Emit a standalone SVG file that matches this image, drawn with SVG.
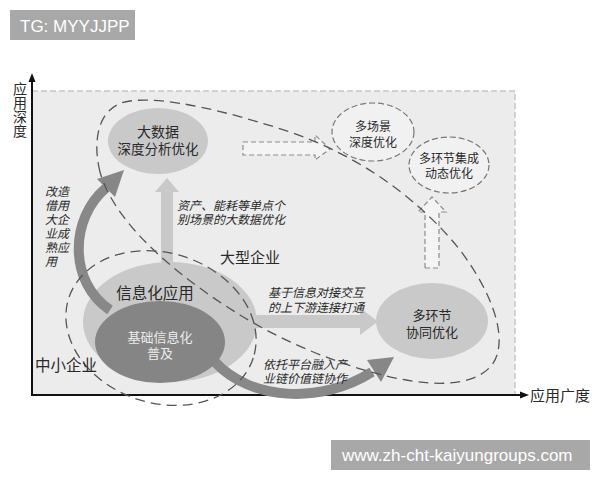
<svg xmlns="http://www.w3.org/2000/svg" width="600" height="480" viewBox="0 0 600 480">
<defs>
<style>
.cn{font-family:"Liberation Sans","Noto Sans CJK SC",sans-serif;fill:#2a2a2a}
.it{font-style:italic;font-size:12px}
.c{text-anchor:middle}
.dl{fill:none;stroke:#555;stroke-width:1.3;stroke-dasharray:10,6}
.hollow{fill:#f4f4f4;stroke:#8a8a8a;stroke-width:1.2;stroke-dasharray:5,3}
.light{fill:#c9c9c9}
.dark{fill:#878787}
.wm{fill:#a8a8a8}
.wt{font-family:"Liberation Sans",Arial,sans-serif;fill:#fff}
</style>
</defs>
<rect width="600" height="480" fill="#fff"/>
<g id="watermark-top"><rect class="wm" x="10" y="10" width="125" height="30"/><text class="wt" x="20" y="32" font-size="17">TG: MYYJJPP</text></g>
<g id="panel">
<rect x="32" y="91" width="483" height="304" fill="#ececec"/>
<path d="M32,91 H515 V395" fill="none" stroke="#c6c6c6" stroke-width="1.5" stroke-dasharray="6,3"/>
</g>
<g id="axes">
<path d="M32,396 V80" stroke="#111" stroke-width="2" fill="none"/>
<polygon points="32,73 28.5,82 35.5,82" fill="#111"/>
<path d="M31,395 H522" stroke="#111" stroke-width="2" fill="none"/>
<polygon points="529,395 520,391.5 520,398.5" fill="#111"/>
<text class="cn" x="19" y="82" font-size="14" style="writing-mode:vertical-rl">应用深度</text>
<text class="cn" x="530" y="401" font-size="15">应用广度</text>
</g>
<g id="connectors">
<rect class="light" x="161" y="190" width="12" height="74"/>
<polygon class="light" points="167,178 155,192 179,192"/>
<rect class="light" x="250" y="315" width="112" height="13"/>
<polygon class="light" points="378,321.5 360,308 360,335"/>
<polygon class="hollow" points="243,142 315,142 315,135 330,149 315,160 315,155 243,155"/>
<polygon class="hollow" points="425,268 425,212 418,212 432,197 446,212 439,212 439,268"/>
</g>
<g id="node-xxh">
<ellipse class="light" cx="170" cy="322" rx="87" ry="60"/>
<text class="cn c" x="155" y="299" font-size="15.5">信息化应用</text>
</g>
<g id="connectors-dark">
<path d="M110,310 C68,282 70,218 106,188" fill="none" stroke="#888" stroke-width="10"/>
<polygon class="dark" points="124,170 97,179 115,197"/>
<path d="M215,362 C250,400 320,405 372,372" fill="none" stroke="#888" stroke-width="10"/>
<polygon class="dark" points="394,357 367,360 381,382"/>
</g>
<g id="node-jc">
<ellipse cx="160" cy="342" rx="65" ry="41" fill="#858585"/>
<text class="c" font-size="13" font-family="Liberation Sans,Noto Sans CJK SC,sans-serif" fill="#ececec"><tspan x="160" y="342">基础信息化</tspan><tspan x="160" y="358">普及</tspan></text>
</g>
<g id="node-dsj">
<ellipse class="light" cx="158" cy="141" rx="50" ry="33"/>
<text class="cn c" font-size="14"><tspan x="158" y="137">大数据</tspan><tspan x="158" y="154" font-size="13.5">深度分析优化</tspan></text>
</g>
<g id="node-dcj">
<ellipse cx="373" cy="132" rx="41" ry="29" fill="#f1f1f1" stroke="#777" stroke-width="1.2" stroke-dasharray="6,3"/>
<text class="cn c" font-size="12"><tspan x="373" y="131">多场景</tspan><tspan x="373" y="147">深度优化</tspan></text>
</g>
<g id="node-dhj-jc">
<ellipse cx="449" cy="165" rx="40" ry="28" fill="#f1f1f1" stroke="#777" stroke-width="1.2" stroke-dasharray="6,3"/>
<text class="cn c" font-size="12"><tspan x="449" y="163">多环节集成</tspan><tspan x="449" y="178">动态优化</tspan></text>
</g>
<g id="node-dhj-xt">
<ellipse class="light" cx="432" cy="321" rx="56" ry="38"/>
<text class="cn c" font-size="13"><tspan x="432" y="320">多环节</tspan><tspan x="432" y="337">协同优化</tspan></text>
</g>
<g id="boundaries">
<path class="dl" d="M100,172 C92,140 98,105 130,101 C165,96 230,112 290,132 C360,156 420,200 460,250 C490,290 505,330 497,355 C490,378 460,385 430,383 C380,380 300,352 240,315 C180,278 115,225 100,172 Z"/>
<ellipse class="dl" cx="161" cy="328" rx="97" ry="75" transform="rotate(18 161 328)"/>
</g>
<g id="labels">
<text class="cn" x="220" y="263" font-size="15">大型企业</text>
<text class="cn" x="35" y="371" font-size="15.5">中小企业</text>
<text class="cn it"><tspan x="45" y="196">改造</tspan><tspan x="45" y="210">借用</tspan><tspan x="45" y="224">大企</tspan><tspan x="45" y="238">业成</tspan><tspan x="45" y="252">熟应</tspan><tspan x="45" y="266">用</tspan></text>
<text class="cn it"><tspan x="177" y="210">资产、能耗等单点个</tspan><tspan x="177" y="224">别场景的大数据优化</tspan></text>
<text class="cn it"><tspan x="268" y="297">基于信息对接交互</tspan><tspan x="268" y="312">的上下游连接打通</tspan></text>
<text class="cn it"><tspan x="263" y="369">依托平台融入产</tspan><tspan x="263" y="383">业链价值链协作</tspan></text>
</g>
<g id="watermark-bottom"><rect class="wm" x="331" y="440" width="259" height="30"/><text class="wt" x="342" y="461" font-size="17">www.zh-cht-kaiyungroups.com</text></g>
</svg>
